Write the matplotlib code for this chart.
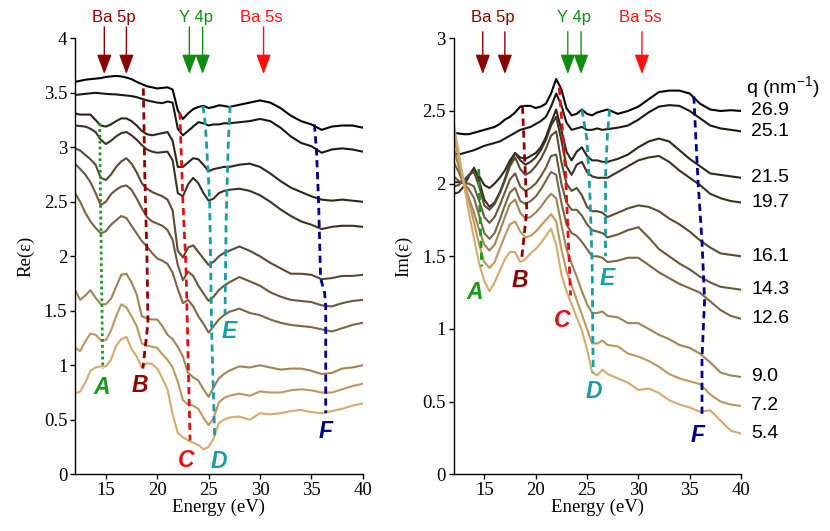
import matplotlib
matplotlib.use("Agg")
import matplotlib.pyplot as plt

plt.rcParams['font.family'] = ['Liberation Serif', 'DejaVu Serif']
plt.rcParams['mathtext.fontset'] = 'custom'
plt.rcParams['mathtext.rm'] = 'Liberation Sans'

energy = [12, 12.5, 13, 13.5, 14, 14.5, 15, 15.5, 16, 16.5, 17, 17.5, 18, 18.5, 19, 19.5,
          20, 20.5, 21, 21.5, 22, 22.5, 23, 23.5, 24, 24.5, 25, 25.5, 26, 26.5, 27,
          28, 29, 30, 31, 32, 33, 34, 35, 36, 37, 38, 39, 40]

q_labels = ['26.9', '25.1', '21.5', '19.7', '16.1', '14.3', '12.6', '9.0', '7.2', '5.4']

re_eps = [
    [3.60, 3.61, 3.62, 3.625, 3.63, 3.635, 3.645, 3.65, 3.655, 3.65, 3.64, 3.625, 3.60, 3.58, 3.56, 3.55,
     3.54, 3.545, 3.55, 3.53, 3.34, 3.26, 3.31, 3.35, 3.37, 3.38, 3.36, 3.37, 3.385, 3.38, 3.37,
     3.39, 3.41, 3.43, 3.41, 3.36, 3.29, 3.24, 3.21, 3.16, 3.19, 3.20, 3.20, 3.18],
    [3.48, 3.485, 3.49, 3.495, 3.50, 3.495, 3.49, 3.487, 3.485, 3.48, 3.475, 3.47, 3.46, 3.445, 3.43, 3.42,
     3.41, 3.405, 3.42, 3.41, 3.17, 3.11, 3.15, 3.19, 3.23, 3.22, 3.20, 3.21, 3.21, 3.22, 3.22,
     3.23, 3.24, 3.26, 3.24, 3.18, 3.10, 3.04, 3.01, 2.95, 2.98, 2.99, 2.98, 2.96],
    [3.31, 3.30, 3.30, 3.30, 3.25, 3.20, 3.19, 3.21, 3.24, 3.265, 3.265, 3.24, 3.20, 3.15, 3.12, 3.11,
     3.12, 3.13, 3.14, 3.06, 2.82, 2.82, 2.86, 2.90, 2.89, 2.84, 2.78, 2.80, 2.81, 2.82, 2.82,
     2.84, 2.85, 2.82, 2.76, 2.69, 2.63, 2.59, 2.55, 2.52, 2.51, 2.52, 2.51, 2.50],
    [3.20, 3.195, 3.19, 3.17, 3.14, 3.07, 3.03, 3.06, 3.10, 3.13, 3.14, 3.11, 3.07, 3.02, 2.98, 2.96,
     2.95, 2.955, 2.96, 2.88, 2.58, 2.55, 2.66, 2.72, 2.67, 2.58, 2.51, 2.53, 2.58, 2.60, 2.61,
     2.62, 2.60, 2.56, 2.50, 2.43, 2.37, 2.32, 2.29, 2.25, 2.27, 2.28, 2.28, 2.27],
    [2.99, 2.97, 2.93, 2.89, 2.84, 2.72, 2.70, 2.75, 2.82, 2.87, 2.90, 2.85, 2.77, 2.67, 2.62, 2.59,
     2.57, 2.55, 2.52, 2.42, 2.05, 1.99, 2.08, 2.10, 2.04, 1.98, 1.92, 1.95, 2.00, 2.03, 2.05,
     2.09, 2.05, 2.00, 1.94, 1.89, 1.84, 1.84, 1.83, 1.79, 1.80, 1.82, 1.82, 1.83],
    [2.85, 2.80, 2.75, 2.68, 2.58, 2.47, 2.50, 2.57, 2.61, 2.64, 2.65, 2.61, 2.53, 2.44, 2.36, 2.32,
     2.30, 2.28, 2.24, 2.15, 1.92, 1.78, 1.86, 1.82, 1.73, 1.66, 1.59, 1.63, 1.69, 1.73, 1.76,
     1.81, 1.77, 1.73, 1.67, 1.63, 1.60, 1.59, 1.58, 1.55, 1.54, 1.57, 1.59, 1.60],
    [2.58, 2.50, 2.40, 2.32, 2.26, 2.21, 2.23, 2.29, 2.33, 2.37, 2.35, 2.28, 2.21, 2.14, 2.09, 2.03,
     1.98, 1.96, 1.93, 1.85, 1.70, 1.57, 1.60, 1.54, 1.45, 1.38, 1.30, 1.36, 1.42, 1.46, 1.49,
     1.52, 1.48, 1.46, 1.42, 1.39, 1.37, 1.36, 1.35, 1.33, 1.31, 1.34, 1.37, 1.39],
    [1.69, 1.60, 1.64, 1.69, 1.62, 1.56, 1.56, 1.61, 1.72, 1.83, 1.84, 1.76, 1.65, 1.45, 1.43, 1.42,
     1.42, 1.36, 1.28, 1.24, 1.17, 1.08, 0.93, 0.89, 0.86, 0.78, 0.71, 0.80, 0.88, 0.92, 0.95,
     0.99, 0.98, 1.00, 0.98, 0.96, 0.97, 0.97, 0.95, 0.92, 0.93, 0.97, 0.98, 1.00],
    [1.16, 1.13, 1.22, 1.29, 1.28, 1.23, 1.23, 1.32, 1.45, 1.56, 1.53, 1.45, 1.36, 1.20, 1.18, 1.17,
     1.16, 1.10, 1.05, 0.98, 0.85, 0.68, 0.64, 0.63, 0.60, 0.52, 0.45, 0.52, 0.66, 0.70, 0.72,
     0.74, 0.72, 0.76, 0.75, 0.75, 0.77, 0.78, 0.77, 0.75, 0.75, 0.78, 0.81, 0.83],
    [0.74, 0.76, 0.84, 0.95, 0.98, 0.99, 0.99, 1.05, 1.18, 1.24, 1.26, 1.15, 1.08, 0.98, 1.02, 1.01,
     0.97, 0.88, 0.78, 0.55, 0.38, 0.34, 0.31, 0.29, 0.27, 0.23, 0.25, 0.33, 0.47, 0.50, 0.52,
     0.53, 0.50, 0.56, 0.55, 0.56, 0.58, 0.59, 0.57, 0.56, 0.58, 0.60, 0.63, 0.65],
]

im_eps = [
    [2.35, 2.345, 2.34, 2.34, 2.35, 2.36, 2.37, 2.38, 2.39, 2.41, 2.44, 2.46, 2.49, 2.53, 2.535, 2.535,
     2.52, 2.53, 2.55, 2.62, 2.72, 2.65, 2.52, 2.47, 2.48, 2.51, 2.48, 2.47, 2.49, 2.50, 2.51,
     2.48, 2.50, 2.53, 2.58, 2.63, 2.64, 2.64, 2.62, 2.55, 2.51, 2.50, 2.505, 2.50],
    [2.21, 2.20, 2.21, 2.22, 2.23, 2.245, 2.26, 2.27, 2.28, 2.29, 2.31, 2.33, 2.35, 2.37, 2.38, 2.39,
     2.41, 2.43, 2.46, 2.53, 2.62, 2.54, 2.42, 2.37, 2.38, 2.39, 2.37, 2.37, 2.38, 2.37, 2.375,
     2.385, 2.40, 2.44, 2.49, 2.53, 2.54, 2.535, 2.50, 2.45, 2.40, 2.38, 2.37, 2.36],
    [2.01, 2.01, 2.02, 2.06, 2.10, 2.05, 1.99, 1.97, 2.00, 2.04, 2.09, 2.16, 2.21, 2.18, 2.17, 2.19,
     2.21, 2.25, 2.32, 2.42, 2.51, 2.37, 2.22, 2.16, 2.22, 2.25, 2.19, 2.16, 2.16, 2.15, 2.15,
     2.17, 2.20, 2.25, 2.29, 2.31, 2.29, 2.23, 2.17, 2.12, 2.07, 2.06, 2.05, 2.04],
    [1.93, 1.94, 1.98, 2.05, 2.11, 2.02, 1.89, 1.84, 1.87, 1.94, 2.03, 2.14, 2.21, 2.16, 2.13, 2.15,
     2.18, 2.23, 2.30, 2.40, 2.46, 2.30, 2.12, 2.06, 2.13, 2.15, 2.08, 2.05, 2.04, 2.04, 2.04,
     2.08, 2.12, 2.16, 2.18, 2.19, 2.15, 2.09, 2.04, 1.99, 1.93, 1.90, 1.88, 1.87],
    [1.98, 1.99, 2.02, 2.06, 2.08, 1.98, 1.85, 1.82, 1.86, 1.93, 2.02, 2.12, 2.18, 2.10, 2.06, 2.08,
     2.12, 2.17, 2.24, 2.33, 2.36, 2.15, 2.00, 1.95, 1.97, 1.92, 1.84, 1.81, 1.81, 1.80, 1.77,
     1.80, 1.83, 1.85, 1.84, 1.81, 1.76, 1.72, 1.67, 1.61, 1.56, 1.52, 1.51, 1.50],
    [2.05, 2.02, 2.00, 2.00, 1.98, 1.88, 1.77, 1.73, 1.77, 1.85, 1.94, 2.03, 2.07, 1.98, 1.95, 1.97,
     2.00, 2.05, 2.11, 2.19, 2.20, 2.00, 1.87, 1.82, 1.82, 1.78, 1.72, 1.68, 1.67, 1.66, 1.63,
     1.65, 1.68, 1.70, 1.63, 1.55, 1.50, 1.45, 1.41, 1.36, 1.32, 1.29, 1.28, 1.27],
    [2.15, 2.08, 2.00, 1.96, 1.90, 1.78, 1.66, 1.62, 1.66, 1.75, 1.85, 1.94, 1.97, 1.88, 1.86, 1.88,
     1.91, 1.96, 2.02, 2.08, 2.06, 1.87, 1.72, 1.66, 1.64, 1.60, 1.55, 1.50, 1.50, 1.49, 1.46,
     1.47, 1.49, 1.49, 1.44, 1.39, 1.35, 1.31, 1.28, 1.25, 1.19, 1.13, 1.09, 1.07],
    [2.25, 2.12, 2.00, 1.90, 1.80, 1.68, 1.58, 1.54, 1.58, 1.67, 1.77, 1.86, 1.89, 1.80, 1.76, 1.77,
     1.80, 1.84, 1.89, 1.93, 1.90, 1.72, 1.55, 1.45, 1.36, 1.26, 1.17, 1.11, 1.11, 1.12, 1.09,
     1.08, 1.04, 1.04, 1.00, 0.96, 0.93, 0.89, 0.87, 0.83, 0.77, 0.70, 0.68, 0.67],
    [2.33, 2.18, 2.02, 1.88, 1.73, 1.58, 1.46, 1.42, 1.46, 1.55, 1.64, 1.72, 1.74, 1.67, 1.63, 1.64,
     1.67, 1.71, 1.75, 1.79, 1.74, 1.55, 1.40, 1.30, 1.20, 1.10, 1.00, 0.90, 0.90, 0.92, 0.89,
     0.88, 0.83, 0.81, 0.78, 0.74, 0.69, 0.66, 0.64, 0.62, 0.55, 0.50, 0.48, 0.47],
    [2.42, 2.22, 2.00, 1.80, 1.62, 1.45, 1.33, 1.26, 1.32, 1.40, 1.48, 1.53, 1.53, 1.46, 1.48, 1.52,
     1.55, 1.59, 1.64, 1.69, 1.58, 1.38, 1.26, 1.17, 1.08, 0.99, 0.86, 0.70, 0.68, 0.72, 0.69,
     0.66, 0.63, 0.58, 0.59, 0.56, 0.51, 0.48, 0.46, 0.43, 0.44, 0.37, 0.30, 0.28],
]

# feature lines (energy, value) for each panel
re_feat = {
    'A': ([14.4, 14.45, 14.55, 14.65, 14.7], [3.22, 2.8, 2.0, 1.3, 0.97]),
    'B': ([18.65, 18.8, 19.0, 19.1, 18.6], [3.54, 2.7, 2.0, 1.39, 0.97]),
    'C': ([22.2, 22.5, 22.8, 23.05, 23.2], [3.32, 2.5, 1.9, 0.9, 0.31]),
    'D': ([24.45, 24.7, 25.1, 25.2, 25.3, 25.6], [3.38, 3.19, 2.52, 1.92, 1.3, 0.32]),
    'E': ([27.1, 26.9, 26.7, 26.6], [3.38, 3.0, 2.3, 1.47]),
    'F': ([35.3, 35.5, 35.7, 35.9, 36.3, 36.4, 36.4], [3.21, 2.97, 2.52, 1.80, 1.66, 1.54, 0.56]),
}
im_feat = {
    'A': ([14.45, 14.6, 14.75], [2.10, 1.75, 1.43]),
    'B': ([18.72, 18.98, 19.14, 18.65], [2.53, 2.09, 1.82, 1.49]),
    'C': ([22.3, 22.9, 23.4], [2.66, 2.09, 1.23]),
    'D': ([24.5, 25.0, 25.3, 25.5, 25.6], [2.51, 2.30, 1.90, 1.45, 0.70]),
    'E': ([27.2, 27.0, 26.8, 26.8], [2.51, 2.35, 2.05, 1.50]),
    'F': ([35.4, 35.8, 36.2, 36.45, 36.2, 36.2], [2.60, 2.03, 1.60, 1.20, 0.80, 0.41]),
}
re_letter_pos = {'A': (14.6, 0.80), 'B': (18.35, 0.81), 'C': (22.8, 0.13),
                 'D': (25.95, 0.12), 'E': (27.0, 1.31), 'F': (36.35, 0.39)}
im_letter_pos = {'A': (14.1, 1.25), 'B': (18.5, 1.33), 'C': (22.6, 1.06),
                 'D': (25.65, 0.57), 'E': (26.95, 1.35), 'F': (35.8, 0.27)}

ba5p_E = [14.85, 17.0]
y4p_E = [23.13, 24.42]
ba5s_E = [30.35]

curve_colors = ['#000000', '#1c1710', '#2e2619', '#3d3222', '#5a4a33',
                '#6b583c', '#7b6645', '#a08455', '#bb985f', '#d5aa6c']
feat_colors = {'A': '#1a9a1a', 'B': '#900000', 'C': '#e01010',
               'D': '#179e9e', 'E': '#179e9e', 'F': '#00008b'}

fig = plt.figure(figsize=(8.3, 5.31), dpi=100)
axL = fig.add_axes([0.0904, 0.1068, 0.3466, 0.8211])
axR = fig.add_axes([0.5464, 0.1068, 0.3464, 0.8211])

sans = ['Liberation Sans', 'DejaVu Sans']


def setup(ax, ymax, yticks, ylabel):
    ax.set_xlim(12, 40)
    ax.set_ylim(0, ymax)
    for s in ['top', 'right']:
        ax.spines[s].set_visible(False)
    for s in ['left', 'bottom']:
        ax.spines[s].set_linewidth(1.0)
    ax.set_xticks([15, 20, 25, 30, 35, 40])
    ax.set_xticklabels(['15', '20', '25', '30', '35', '40'])
    ax.set_yticks(yticks)
    ax.set_yticklabels([('%g' % t) for t in yticks])
    ax.tick_params(direction='out', length=3.5, width=1.0, labelsize=13.5, pad=2)
    ax.set_xlabel('Energy (eV)', fontsize=13.5, labelpad=0)
    ax.set_ylabel(ylabel, fontsize=13.5, labelpad=7)


setup(axL, 4, [0, 0.5, 1, 1.5, 2, 2.5, 3, 3.5, 4], 'Re(ε)')
setup(axR, 3, [0, 0.5, 1, 1.5, 2, 2.5, 3], 'Im(ε)')

for vals, c in zip(re_eps, curve_colors):
    axL.plot(energy, vals, color=c, lw=1.5, zorder=2)
for vals, c in zip(im_eps, curve_colors):
    axR.plot(energy, vals, color=c, lw=1.5, zorder=2)

for ax, feats, letters, dotted_a in [(axL, re_feat, re_letter_pos, True),
                                      (axR, im_feat, im_letter_pos, False)]:
    for key, (xs, ys) in feats.items():
        ln, = ax.plot(xs, ys, color=feat_colors[key], lw=2.0, zorder=3)
        if key == 'A' and dotted_a:
            ln.set_dashes((1.0, 1.1))
        else:
            ln.set_dashes((2.6, 1.7))
    for key, (lx, ly) in letters.items():
        ax.text(lx, ly, key, color=feat_colors[key], fontsize=16.5, fontweight='bold',
                fontstyle='italic', family=sans, ha='center', va='center', zorder=4)

# top arrows
for ax, tail in [(axL, 1.026), (axR, 1.015)]:
    tr = ax.get_xaxis_transform()
    for group, col, label, lx in [(ba5p_E, '#8b0000', 'Ba 5p', 15.8),
                                  (y4p_E, '#118c11', 'Y 4p', 23.78),
                                  (ba5s_E, '#ff1010', 'Ba 5s', 30.15)]:
        for e in group:
            ax.annotate('', xy=(e, 0.918), xytext=(e, tail), xycoords=tr, textcoords=tr,
                        annotation_clip=False,
                        arrowprops=dict(arrowstyle='-|>,head_length=0.75,head_width=0.28',
                                        mutation_scale=16, color=col, lw=1.0,
                                        shrinkA=0, shrinkB=0))
        ax.text(lx, 1.048, label, transform=tr, color=col, fontsize=12, family=sans,
                ha='center', va='center', clip_on=False)

# q labels on the right
axR.text(40.5, 2.66, 'q (nm$^{\\mathregular{-1}}$)', fontsize=14, family=sans,
         ha='left', va='center', clip_on=False)
for vals, lab in zip(im_eps, q_labels):
    axR.text(41.0, vals[-1], lab, fontsize=14, family=sans, ha='left', va='center',
             clip_on=False)

fig.savefig('out.png', dpi=100)
